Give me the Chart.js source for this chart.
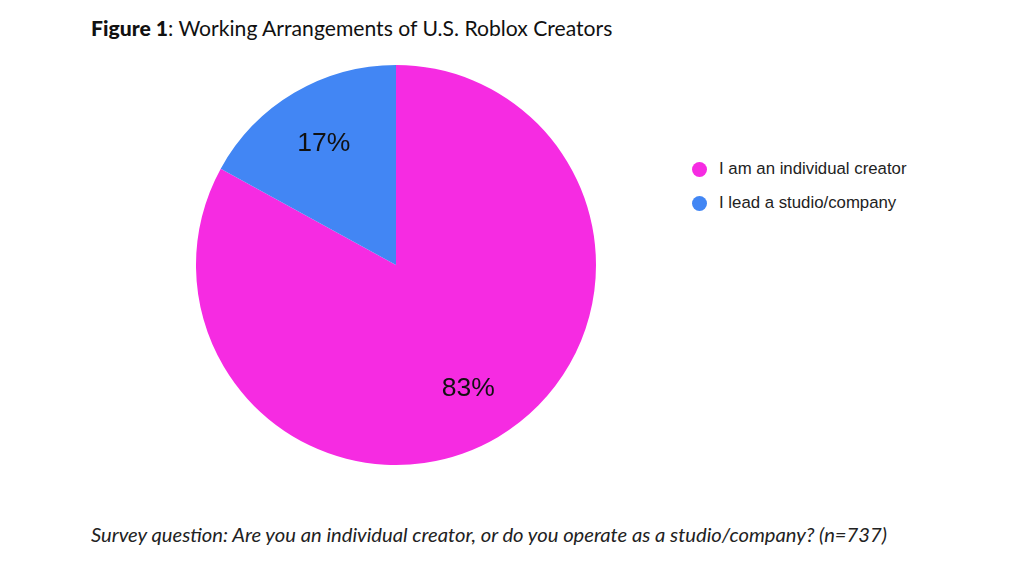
<!DOCTYPE html>
<html><head><meta charset="utf-8">
<script src="https://cdn.jsdelivr.net/npm/chart.js@4/dist/chart.umd.min.js"></script>
<style>
html,body{margin:0;padding:0;background:#fff;width:1024px;height:576px;overflow:hidden;position:relative}
#title{position:absolute;left:91px;top:15px;font-family:Lato,sans-serif;font-size:21.15px;color:#111;white-space:nowrap}
#title b{font-weight:900}
#caption{position:absolute;left:91px;top:522px;font-family:Lato,sans-serif;font-style:italic;font-size:20.2px;color:#222;white-space:nowrap}
#wrap{position:absolute;left:194px;top:63px;width:404px;height:404px}
#legend{position:absolute;left:692px;top:159px;font-family:"Liberation Sans",Arial,sans-serif;font-size:16.8px;color:#222}
.li{height:34px;display:flex;align-items:flex-start}
.dot{width:15px;height:15px;border-radius:50%;margin-right:12px;margin-top:3px}
</style></head><body>
<div id="title"><b>Figure 1</b>: Working Arrangements of U.S. Roblox Creators</div>
<div id="wrap"><canvas id="c"></canvas></div>
<div id="legend"></div>
<div id="caption">Survey question: Are you an individual creator, or do you operate as a studio/company? (n=737)</div>
<script>
const categories = ["I am an individual creator", "I lead a studio/company"];
const values = [83, 17];
const colors = ["#F62BE2", "#4286F4"];

const lg = document.getElementById('legend');
categories.forEach((c,i)=>{
  const d=document.createElement('div');d.className='li';
  d.innerHTML='<span class="dot" style="background:'+colors[i]+'"></span><span>'+c+'</span>';
  lg.appendChild(d);
});

const labelPlugin = {
  id:'sliceLabels',
  afterDatasetsDraw(chart){
    const ctx=chart.ctx;
    const meta=chart.getDatasetMeta(0);
    const total=values.reduce((a,b)=>a+b,0);
    ctx.save();
    ctx.font='26.5px "Liberation Sans", Arial, sans-serif';
    ctx.fillStyle='#111';
    ctx.textAlign='center';ctx.textBaseline='middle';
    meta.data.forEach((arc,i)=>{
      const p=arc.getProps(['x','y','startAngle','endAngle','outerRadius'],true);
      const a=(p.startAngle+p.endAngle)/2;
      const r=p.outerRadius*0.71;
      ctx.fillText(Math.round(values[i]/total*100)+'%', p.x+Math.cos(a)*r, p.y+Math.sin(a)*r+1);
    });
    ctx.restore();
  }
};

new Chart(document.getElementById('c'),{
  type:'pie',
  data:{labels:categories,datasets:[{data:values,backgroundColor:colors,borderWidth:0}]},
  options:{
    responsive:true,maintainAspectRatio:false,animation:false,
    layout:{padding:2},
    plugins:{legend:{display:false},tooltip:{enabled:false}}
  },
  plugins:[labelPlugin]
});
</script>
</body></html>
